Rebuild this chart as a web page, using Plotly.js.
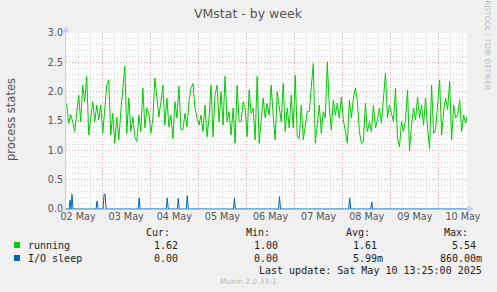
<!DOCTYPE html>
<html>
<head>
<meta charset="utf-8">
<script src="https://cdn.plot.ly/plotly-3.0.1.min.js"></script>
<style>
  html, body { margin: 0; padding: 0; background: #f0f0f0; }
  #chart { width: 497px; height: 292px; }
</style>
</head>
<body>
<div id="chart"></div>
<script>
// ---------------- DATA ----------------
const chartTitle = 'VMstat - by week';
const yTitle = 'process states';
// "running": one reading per hour, first reading at 2025-05-02 06:20
const runningStart = '2025-05-02 06:20';
const runningStepMinutes = 60;
const runningValues = [
  1.80,1.46,1.61,1.49,1.32,1.60,1.94,1.49,2.11,1.83,2.26,1.26,1.60,1.83,1.49,1.77,1.52,1.77,1.29,1.77,2.11,2.20,1.26,1.63,1.12,1.57,1.18,1.66,2.06,
  2.43,1.29,1.89,1.32,1.57,1.23,1.15,1.60,1.32,2.06,1.38,1.72,1.63,1.29,1.55,2.23,1.83,1.57,1.83,2.11,1.43,1.89,1.40,1.60,1.20,1.83,1.55,2.09,1.35,
  1.35,1.63,1.40,1.83,2.06,2.14,1.72,1.55,1.43,1.60,1.32,1.77,1.23,1.55,2.11,1.23,1.94,2.11,1.49,2.00,1.43,2.26,1.49,1.66,1.26,1.72,1.12,2.11,1.49,
  1.49,1.83,1.72,1.23,2.03,1.63,1.72,1.18,2.26,1.12,1.49,1.89,1.55,1.80,1.60,2.11,1.60,1.18,2.00,1.77,1.49,2.14,1.32,1.72,1.38,1.94,1.38,2.28,1.23,
  1.20,1.77,1.18,1.43,1.66,1.66,2.06,2.48,1.12,1.49,1.77,1.29,1.66,1.55,2.51,1.72,1.35,1.86,1.60,1.80,1.55,1.91,1.52,1.32,1.12,1.86,1.55,1.89,2.06,
  1.83,1.32,1.12,1.15,1.80,1.32,1.49,1.32,1.77,1.38,1.52,1.72,1.46,1.83,2.31,1.55,1.77,1.63,1.49,2.06,1.20,1.06,1.49,1.32,1.52,2.03,1.00,1.43,1.72,
  1.52,1.91,1.55,1.77,1.43,1.89,1.38,1.03,2.11,1.29,1.35,1.77,2.20,1.26,1.66,1.89,1.69,2.17,1.18,1.77,1.55,1.60,1.86,1.32,1.60,1.46,1.62
];
// "I/O sleep": zero except these half-hour readings
const ioSpikeTimes = ['2025-05-02 08:00','2025-05-02 09:00','2025-05-02 21:30','2025-05-03 01:00','2025-05-03 01:30',
  '2025-05-03 18:30','2025-05-04 08:30','2025-05-04 14:00','2025-05-04 18:30','2025-05-05 18:00',
  '2025-05-06 16:30','2025-05-08 03:30','2025-05-08 14:30'];
const ioSpikeValues = [0.15,0.25,0.14,0.25,0.25,0.19,0.19,0.18,0.23,0.18,0.21,0.19,0.12];
const ioStepMinutes = 30;

const rangeStart = '2025-05-02 06:00';
const rangeEnd = '2025-05-10 14:00';
const dayTickTimes = ['2025-05-02 12:00','2025-05-03 12:00','2025-05-04 12:00','2025-05-05 12:00','2025-05-06 12:00',
  '2025-05-07 12:00','2025-05-08 12:00','2025-05-09 12:00','2025-05-10 12:00'];
const dayTickLabels = ['02 May','03 May','04 May','05 May','06 May','07 May','08 May','09 May','10 May'];

const seriesNames = ['running', 'I/O sleep'];
const seriesColors = ['#00cc00', '#0066b3'];
const statHeaders = ['Cur:', 'Min:', 'Avg:', 'Max:'];
const statCur = ['1.62', '0.00'];
const statMin = ['1.00', '0.00'];
const statAvg = ['1.61', '5.99m'];
const statMax = ['5.54', '860.00m'];
const lastUpdate = 'Last update: Sat May 10 13:25:00 2025';
const footer = 'Munin 2.0.33-1';
const sideText = 'RRDTOOL / TOBI OETIKER';

// ---------------- BUILD ----------------
function toMs(s) {
  const [d, h] = s.split(' ');
  const [Y, M, D] = d.split('-').map(Number);
  const [hh, mm] = h.split(':').map(Number);
  return Date.UTC(Y, M - 1, D, hh, mm);
}
const t0 = toMs(runningStart);
const runX = runningValues.map((_, i) => t0 + i * runningStepMinutes * 60000);

const ioMap = new Map();
ioSpikeTimes.forEach((t, i) => ioMap.set(toMs(t), ioSpikeValues[i]));
ioSpikeTimes.forEach(t => {
  const m = toMs(t);
  [m - ioStepMinutes * 60000, m + ioStepMinutes * 60000].forEach(n => { if (!ioMap.has(n)) ioMap.set(n, 0); });
});
ioMap.set(toMs(rangeStart), 0);
ioMap.set(toMs(rangeEnd), 0);
const ioX = Array.from(ioMap.keys()).sort((a, b) => a - b);
const ioY = ioX.map(k => ioMap.get(k));

// pixel helpers (plot area 66..467 x 33..209)
const L = 66, R = 30, T = 33, B = 83, W = 497, H = 292;
const PW = W - L - R, PH = H - T - B;
const px = x => (x - L) / PW;
const py = y => (H - B - y) / PH;

const mono = 'DejaVu Sans Mono, monospace';
const sans = 'DejaVu Sans, sans-serif';
const annotations = [];
function txt(x, y, text, anchor, size, color, font, extra) {
  annotations.push(Object.assign({
    xref: 'paper', yref: 'paper', x: px(x), y: py(y), text: text,
    xanchor: anchor, yanchor: 'middle', showarrow: false,
    font: { family: font || mono, size: size, color: color }, borderpad: 0
  }, extra || {}));
}
txt(248, 13, chartTitle, 'center', 12.5, '#555', sans);
txt(11, 120, yTitle, 'center', 11.5, '#555', sans, { textangle: -90 });
txt(488, 42, sideText, 'center', 7.4, '#bbbbbb', sans, { textangle: 90 });

const colRight = [171, 271, 371, 469];
const valRight = [[179, 279, 378, 477], [179, 279, 384, 483]];
statHeaders.forEach((h, i) => txt(colRight[i], 233, h, 'right', 10, '#222'));
const rowY = [245, 258];
const stats = [statCur, statMin, statAvg, statMax];
const shapes = [];
seriesNames.forEach((n, r) => {
  txt(27, rowY[r], n, 'left', 10, '#222');
  stats.forEach((s, c) => txt(valRight[r][c], rowY[r], s[r], 'right', 10, '#222'));
  shapes.push({ type: 'rect', xref: 'paper', yref: 'paper', x0: px(14), x1: px(20), y0: py(rowY[r] - 3), y1: py(rowY[r] + 3),
    fillcolor: seriesColors[r], line: { width: 0 } });
});
txt(483, 270, lastUpdate, 'right', 10, '#222');
txt(248, 281, footer, 'center', 7.5, '#bbbbbb', sans);

// axis arrows
annotations.push({ xref: 'paper', yref: 'paper', x: px(66), y: py(26), ax: 0, ay: 8, text: '', showarrow: true,
  arrowhead: 2, arrowsize: 1.3, arrowwidth: 1, arrowcolor: '#c4ccf4' });
annotations.push({ xref: 'paper', yref: 'paper', x: px(474), y: py(209), ax: -8, ay: 0, text: '', showarrow: true,
  arrowhead: 2, arrowsize: 1.3, arrowwidth: 1, arrowcolor: '#c4ccf4' });

const xr = [toMs(rangeStart), toMs(rangeEnd)];
const traces = [
  { x: runX, y: runningValues, type: 'scatter', mode: 'lines', name: seriesNames[0],
    line: { color: seriesColors[0], width: 1 }, xaxis: 'x', yaxis: 'y', hoverinfo: 'skip' },
  { x: ioX, y: ioY, type: 'scatter', mode: 'lines', name: seriesNames[1],
    line: { color: seriesColors[1], width: 1 }, xaxis: 'x2', yaxis: 'y', hoverinfo: 'skip' }
];

const layout = {
  width: W, height: H,
  margin: { l: L, r: R, t: T, b: B, pad: 0 },
  paper_bgcolor: '#f0f0f0', plot_bgcolor: '#ffffff',
  showlegend: false,
  xaxis: {
    type: 'date', range: xr, tickmode: 'linear', tick0: toMs('2025-05-02 00:00'), dtick: 86400000,
    showticklabels: false, ticks: '', showgrid: true, gridcolor: '#f0a0a0', griddash: '1px,2px', gridwidth: 1,
    minor: { dtick: 6 * 3600000, showgrid: true, gridcolor: '#d6d6d6', griddash: '1px,2px', ticks: '' },
    zeroline: false, showline: true, linecolor: '#a8b8ec', linewidth: 1
  },
  xaxis2: {
    type: 'date', overlaying: 'x', matches: 'x', range: xr, side: 'bottom',
    tickmode: 'array', tickvals: dayTickTimes.map(toMs), ticktext: dayTickLabels,
    tickfont: { family: sans, size: 9.6, color: '#555' }, ticks: '', showgrid: false, zeroline: false, showline: false
  },
  yaxis: {
    range: [0, 3.0], tickmode: 'linear', tick0: 0, dtick: 0.5, tickformat: '.1f',
    tickfont: { family: sans, size: 9.6, color: '#555' }, ticks: '',
    showgrid: true, gridcolor: '#f0a0a0', griddash: '1px,2px', gridwidth: 1,
    minor: { dtick: 0.1, showgrid: true, gridcolor: '#d6d6d6', griddash: '1px,2px', ticks: '' },
    zeroline: false, showline: true, linecolor: '#c4ccf4', linewidth: 1
  },
  annotations: annotations,
  shapes: shapes
};

Plotly.newPlot('chart', traces, layout, { staticPlot: true, displayModeBar: false });
</script>
</body>
</html>
